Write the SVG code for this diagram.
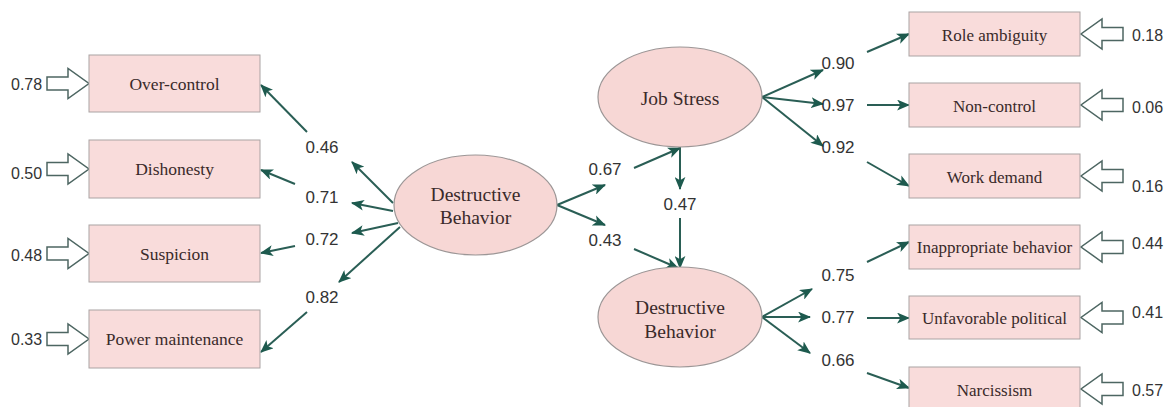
<svg xmlns="http://www.w3.org/2000/svg" width="1172" height="407" viewBox="0 0 1172 407">
<style>
.box{fill:#f9dcdb;stroke:#aaa3a3;stroke-width:1}
.ell{fill:#f7d7d5;stroke:#9c9696;stroke-width:1.2}
.bt{font-family:"Liberation Serif","Times New Roman",serif;fill:#3a2a2a;text-anchor:middle;dominant-baseline:central}
.bl{font-size:17.5px}
.br{font-size:17px}
.et{font-size:19.5px}
.num{font-family:"Liberation Sans",Arial,sans-serif;fill:#333;font-size:17px;text-anchor:middle;dominant-baseline:central}
.res{font-family:"Liberation Sans",Arial,sans-serif;fill:#333;font-size:16px;dominant-baseline:central}
.ln{stroke:#2a5e55;stroke-width:2;fill:none;marker-end:url(#ah)}
.hol{fill:#fff;stroke:#4d6662;stroke-width:1.5;stroke-linejoin:miter}
</style>
<defs>
<marker id="ah" viewBox="0 0 12 10" refX="11" refY="5" markerWidth="13" markerHeight="11" orient="auto" markerUnits="userSpaceOnUse">
<path d="M0,0 L12,5 L0,10 L3,5 Z" fill="#1d5a4e"/>
</marker>
<path id="hollow" d="M-42,-6.5 H-21 V-15 L0,0 L-21,15 V6.5 H-42 Z"/>
</defs>
<rect width="1172" height="407" fill="#fff"/>

<g id="connectors">
<line class="ln" x1="393" y1="203" x2="352" y2="162"/>
<line class="ln" x1="393" y1="211" x2="352" y2="203"/>
<line class="ln" x1="398" y1="223" x2="352" y2="233"/>
<line class="ln" x1="400" y1="227" x2="339" y2="282"/>
<line class="ln" x1="307" y1="132" x2="261" y2="85"/>
<line class="ln" x1="295" y1="184" x2="261" y2="170"/>
<line class="ln" x1="295" y1="246" x2="261" y2="253"/>
<line class="ln" x1="307" y1="312" x2="261" y2="352"/>
<line class="ln" x1="557" y1="205" x2="605" y2="185"/>
<line class="ln" x1="557" y1="205" x2="605" y2="225"/>
<line class="ln" x1="634" y1="168" x2="680" y2="148"/>
<line class="ln" x1="634" y1="249" x2="678" y2="268"/>
<line class="ln" x1="680" y1="147" x2="680" y2="189"/>
<line class="ln" x1="680" y1="218" x2="680" y2="268"/>
<line class="ln" x1="762" y1="97" x2="823" y2="70"/>
<line class="ln" x1="762" y1="97" x2="823" y2="104"/>
<line class="ln" x1="762" y1="97" x2="823" y2="146"/>
<line class="ln" x1="867" y1="52" x2="909" y2="34"/>
<line class="ln" x1="867" y1="105" x2="909" y2="105"/>
<line class="ln" x1="867" y1="162" x2="909" y2="186"/>
<line class="ln" x1="762" y1="317" x2="812" y2="289"/>
<line class="ln" x1="762" y1="317" x2="810" y2="317"/>
<line class="ln" x1="762" y1="317" x2="810" y2="353"/>
<line class="ln" x1="867" y1="262" x2="909" y2="242"/>
<line class="ln" x1="867" y1="318" x2="909" y2="318"/>
<line class="ln" x1="867" y1="373" x2="909" y2="388"/>
</g>

<g id="path-labels">
<text class="num" x="322" y="147">0.46</text>
<text class="num" x="322" y="197">0.71</text>
<text class="num" x="322" y="239">0.72</text>
<text class="num" x="322" y="297">0.82</text>
<text class="num" x="605" y="169">0.67</text>
<text class="num" x="605" y="240">0.43</text>
<text class="num" x="680" y="204">0.47</text>
<text class="num" x="838" y="63">0.90</text>
<text class="num" x="838" y="105">0.97</text>
<text class="num" x="838" y="147">0.92</text>
<text class="num" x="838" y="275">0.75</text>
<text class="num" x="838" y="317">0.77</text>
<text class="num" x="838" y="360">0.66</text>
</g>

<g id="residuals">
<use href="#hollow" class="hol" transform="translate(89,83.5)"/>
<use href="#hollow" class="hol" transform="translate(89,169)"/>
<use href="#hollow" class="hol" transform="translate(89,253.5)"/>
<use href="#hollow" class="hol" transform="translate(89,339)"/>
<text class="res" x="11" y="84">0.78</text>
<text class="res" x="11" y="173">0.50</text>
<text class="res" x="11" y="255">0.48</text>
<text class="res" x="11" y="339">0.33</text>
<use href="#hollow" class="hol" transform="translate(1081,34) rotate(180)"/>
<use href="#hollow" class="hol" transform="translate(1081,105) rotate(180)"/>
<use href="#hollow" class="hol" transform="translate(1081,176) rotate(180)"/>
<use href="#hollow" class="hol" transform="translate(1081,247) rotate(180)"/>
<use href="#hollow" class="hol" transform="translate(1081,317.5) rotate(180)"/>
<use href="#hollow" class="hol" transform="translate(1081,389) rotate(180)"/>
<text class="res" x="1132" y="35">0.18</text>
<text class="res" x="1132" y="107">0.06</text>
<text class="res" x="1132" y="186">0.16</text>
<text class="res" x="1132" y="243">0.44</text>
<text class="res" x="1132" y="312">0.41</text>
<text class="res" x="1132" y="390">0.57</text>
</g>

<g id="node-over-control"><rect class="box" x="89" y="55" width="171" height="57"/><text class="bt bl" x="174.5" y="84">Over-control</text></g>
<g id="node-dishonesty"><rect class="box" x="89" y="140" width="171" height="58"/><text class="bt bl" x="174.5" y="169">Dishonesty</text></g>
<g id="node-suspicion"><rect class="box" x="89" y="225" width="171" height="57"/><text class="bt bl" x="174.5" y="254">Suspicion</text></g>
<g id="node-power-maintenance"><rect class="box" x="89" y="310" width="171" height="58"/><text class="bt bl" x="174.5" y="339">Power maintenance</text></g>

<g id="node-destructive-behavior-left"><ellipse class="ell" cx="475.5" cy="205" rx="81.5" ry="50"/><text class="bt et" x="475.5" y="194">Destructive</text><text class="bt et" x="475.5" y="217">Behavior</text></g>
<g id="node-job-stress"><ellipse class="ell" cx="680" cy="97" rx="82" ry="50"/><text class="bt et" x="680" y="98">Job Stress</text></g>
<g id="node-destructive-behavior-right"><ellipse class="ell" cx="680" cy="317" rx="82" ry="50"/><text class="bt et" x="680" y="307">Destructive</text><text class="bt et" x="680" y="331">Behavior</text></g>

<g id="node-role-ambiguity"><rect class="box" x="909" y="12" width="171" height="44"/><text class="bt br" x="994.5" y="35">Role ambiguity</text></g>
<g id="node-non-control"><rect class="box" x="909" y="83" width="171" height="44"/><text class="bt br" x="994.5" y="106">Non-control</text></g>
<g id="node-work-demand"><rect class="box" x="909" y="154" width="171" height="44"/><text class="bt br" x="994.5" y="177">Work demand</text></g>
<g id="node-inappropriate-behavior"><rect class="box" x="909" y="225" width="171" height="44"/><text class="bt br" x="994.5" y="247">Inappropriate behavior</text></g>
<g id="node-unfavorable-political"><rect class="box" x="909" y="296" width="171" height="43"/><text class="bt br" x="994.5" y="318">Unfavorable political</text></g>
<g id="node-narcissism"><rect class="box" x="909" y="367" width="171" height="44"/><text class="bt br" x="994.5" y="390">Narcissism</text></g>
</svg>
